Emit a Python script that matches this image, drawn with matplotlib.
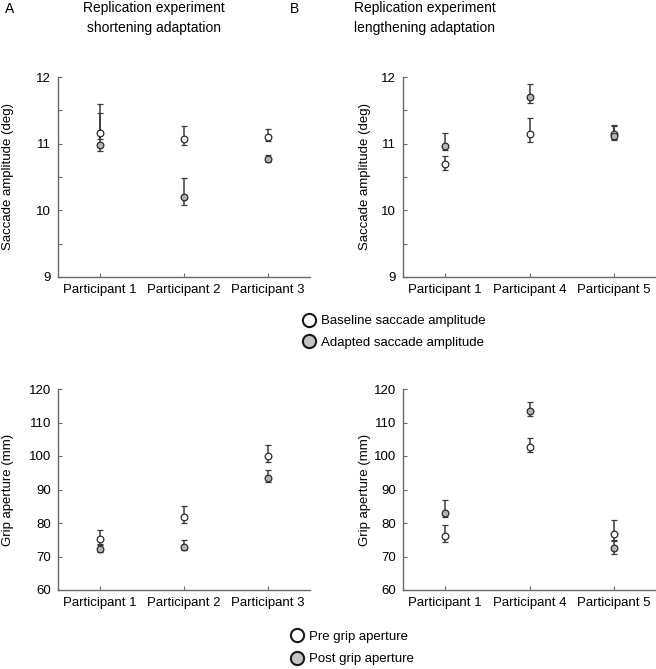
import numpy as np
import matplotlib.pyplot as plt
from matplotlib.lines import Line2D

plt.rcParams['font.family'] = ['Liberation Sans', 'DejaVu Sans']
plt.rcParams['font.size'] = 9.5

# data (mean, lower end, upper end of the error bar)
short_labels = ['Participant 1', 'Participant 2', 'Participant 3']
long_labels = ['Participant 1', 'Participant 4', 'Participant 5']

# A: shortening adaptation, saccade amplitude (deg)
sa_base = [11.16, 11.07, 11.095]
sa_base_lo = [11.07, 10.985, 11.045]
sa_base_hi = [11.595, 11.27, 11.225]
sa_adapt = [10.985, 10.195, 10.77]
sa_adapt_lo = [10.895, 10.085, 10.73]
sa_adapt_hi = [11.46, 10.485, 10.825]

# B: lengthening adaptation, saccade amplitude (deg)
sb_base = [10.695, 11.14, 11.15]
sb_base_lo = [10.61, 11.02, 11.06]
sb_base_hi = [10.81, 11.385, 11.275]
sb_adapt = [10.97, 11.7, 11.12]
sb_adapt_lo = [10.9, 11.61, 11.07]
sb_adapt_hi = [11.16, 11.9, 11.26]

# A: grip aperture (mm)
ga_pre = [75.2, 81.8, 100.0]
ga_pre_lo = [73.5, 80.0, 98.3]
ga_pre_hi = [78.0, 85.0, 103.2]
ga_post = [72.3, 72.7, 93.5]
ga_post_lo = [71.3, 71.8, 92.3]
ga_post_hi = [73.8, 74.8, 95.7]

# B: grip aperture (mm)
gb_pre = [76.0, 102.8, 76.8]
gb_pre_lo = [74.3, 101.2, 75.0]
gb_pre_hi = [79.5, 105.5, 81.0]
gb_post = [83.1, 113.3, 72.4]
gb_post_lo = [81.8, 112.0, 70.8]
gb_post_hi = [87.0, 116.2, 74.5]

gray_fill = '#b4b4b4'
err_col = '#3a3a3a'
spine_col = '#6a6a6a'


def draw(ax, labels, m1, lo1, hi1, m2, lo2, hi2):
    x = np.arange(1, len(labels) + 1)
    for m, lo, hi, fc in [(m1, lo1, hi1, 'white'), (m2, lo2, hi2, gray_fill)]:
        m = np.array(m)
        yerr = [m - np.array(lo), np.array(hi) - m]
        ax.errorbar(x, m, yerr=yerr, fmt='o', color=err_col, ecolor=err_col,
                    elinewidth=1.1, capsize=2, capthick=1.1, markersize=4.8,
                    markerfacecolor=fc, markeredgecolor='#2a2a2a', markeredgewidth=0.9)
    ax.set_xlim(0.5, 3.5)
    ax.set_xticks(x)
    ax.set_xticklabels(labels)
    for s in ['top', 'right']:
        ax.spines[s].set_visible(False)
    for s in ['left', 'bottom']:
        ax.spines[s].set_color(spine_col)
        ax.spines[s].set_linewidth(1.0)
    ax.tick_params(direction='in', length=3, width=0.8, color=spine_col,
                   labelsize=9.5, pad=5)


fig = plt.figure(figsize=(6.56, 6.69), dpi=100)
W, H = 656, 669

def add_axes(left, top, right, bottom):
    return fig.add_axes([left / W, 1 - bottom / H, (right - left) / W, (bottom - top) / H])

ax1 = add_axes(58, 77, 310, 277)
ax2 = add_axes(403, 77, 656, 277)
ax3 = add_axes(58, 389, 310, 590)
ax4 = add_axes(403, 389, 656, 590)

draw(ax1, short_labels, sa_base, sa_base_lo, sa_base_hi, sa_adapt, sa_adapt_lo, sa_adapt_hi)
draw(ax2, long_labels, sb_base, sb_base_lo, sb_base_hi, sb_adapt, sb_adapt_lo, sb_adapt_hi)
draw(ax3, short_labels, ga_pre, ga_pre_lo, ga_pre_hi, ga_post, ga_post_lo, ga_post_hi)
draw(ax4, long_labels, gb_pre, gb_pre_lo, gb_pre_hi, gb_post, gb_post_lo, gb_post_hi)

for ax in [ax1, ax2]:
    ax.set_ylim(9, 12)
    ax.set_yticks(np.arange(9, 12.01, 0.5))
    ax.set_yticklabels(['9', '', '10', '', '11', '', '12'])
    ax.set_ylabel('Saccade amplitude (deg)')
for ax in [ax3, ax4]:
    ax.set_ylim(60, 120)
    ax.set_yticks(np.arange(60, 121, 10))
    ax.set_ylabel('Grip aperture (mm)')

ax1.yaxis.set_label_coords(-0.175, 0.5)
ax3.yaxis.set_label_coords(-0.175, 0.5)
ax2.yaxis.set_label_coords(-0.125, 0.5)
ax4.yaxis.set_label_coords(-0.125, 0.5)

# panel letters and titles
fig.text(5 / W, 1 - 9 / H, 'A', fontsize=10, va='center', ha='left')
fig.text(290 / W, 1 - 9 / H, 'B', fontsize=10, va='center', ha='left')
fig.text(154 / W, 1 - 18 / H, 'Replication experiment\nshortening adaptation',
         fontsize=10, ha='center', va='center', linespacing=1.6)
fig.text(425 / W, 1 - 18 / H, 'Replication experiment\nlengthening adaptation',
         fontsize=10, ha='center', va='center', linespacing=1.6)

def legend_handle(fc):
    return Line2D([], [], linestyle='none', marker='o', markersize=9.5,
                  markerfacecolor=fc, markeredgecolor='#1a1a1a', markeredgewidth=1.5)

fig.legend([legend_handle('white'), legend_handle('#c4c4c4')],
           ['Baseline saccade amplitude', 'Adapted saccade amplitude'],
           loc='center left', bbox_to_anchor=(293 / W, 1 - 332 / H), frameon=False,
           fontsize=9.5, handletextpad=0.1, labelspacing=0.7, borderpad=0, handlelength=1.5)
fig.legend([legend_handle('white'), legend_handle('#c4c4c4')],
           ['Pre grip aperture', 'Post grip aperture'],
           loc='center left', bbox_to_anchor=(281 / W, 1 - 648 / H), frameon=False,
           fontsize=9.5, handletextpad=0.1, labelspacing=0.75, borderpad=0, handlelength=1.5)

fig.savefig('out.png', dpi=100)
